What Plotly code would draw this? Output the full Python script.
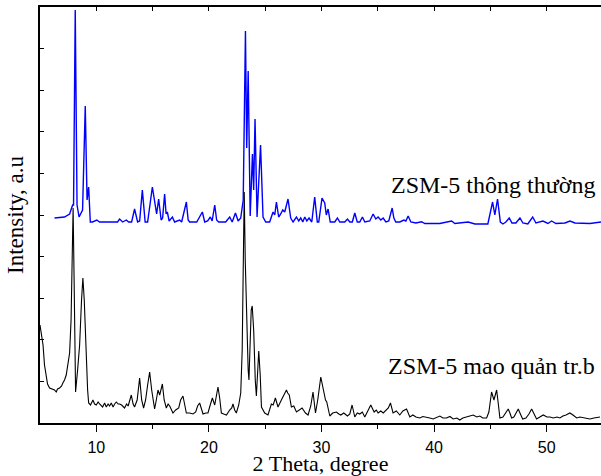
import plotly.graph_objects as go

# 2-theta (degree) and intensity (a.u.)
blue_theta = [6.29, 7.18, 7.63, 7.9, 7.98, 8.13, 8.29, 8.47, 8.78, 9.02, 9.18, 9.32, 9.47, 9.67, 10.05, 10.29,
              11.89, 12.07, 12.34, 12.67, 12.87, 13.14, 13.4, 13.67, 13.85, 14.09, 14.34, 14.56, 14.98, 15.18,
              15.36, 15.54, 15.76, 15.89, 16.07, 16.2, 16.31, 16.47, 16.76, 16.96, 17.4, 17.58, 17.85, 18.0,
              18.16, 18.29, 18.92, 19.42, 19.63, 19.89, 20.13, 20.29, 20.52, 20.69, 20.87, 21.49, 21.85, 22.07,
              22.36, 22.6, 22.83, 23.05, 23.25, 23.36, 23.49, 23.67, 23.87, 23.98, 24.1, 24.28, 24.59, 24.81,
              25.05, 25.4, 25.7, 25.85, 26.0, 26.2, 26.38, 26.56, 26.74, 27.03, 27.27, 27.48, 27.78, 27.98,
              28.16, 28.34, 28.52, 28.7, 28.9, 29.14, 29.4, 29.63, 29.76, 30.05, 30.29, 30.43, 30.59, 30.78,
              31.18, 31.42, 31.63, 32.07, 32.31, 32.52, 32.74, 32.96, 33.18, 33.4, 33.64, 33.85, 34.29, 34.59,
              34.83, 35.03, 35.27, 35.48, 35.72, 35.98, 36.28, 36.43, 36.6, 36.96, 37.32, 37.5, 37.7, 37.94,
              38.39, 38.89, 39.18, 40.51, 41.56, 41.85, 43.03, 43.63, 44.78, 44.95, 45.2, 45.4, 45.64, 45.89,
              46.12, 46.38, 46.68, 46.92, 47.27, 47.63, 47.89, 48.33, 48.76, 49.05, 49.67, 50.12, 50.44, 50.83,
              51.63, 52.07, 52.52, 53.85, 54.83]
blue_int = [205, 206, 209, 218, 218, 413, 218, 206, 213, 317, 223, 236, 201, 201, 203, 201,
            201, 204, 201, 203, 201, 201, 214, 201, 202, 233, 201, 201, 236, 220,
            209, 224, 203, 205, 229, 209, 211, 202, 206, 201, 203, 201, 213, 221,
            203, 201, 201, 211, 201, 202, 206, 202, 218, 203, 201, 201, 206, 201,
            210, 202, 205, 223, 392, 275, 352, 207, 269, 233, 304, 206, 278, 206,
            201, 201, 211, 208, 221, 206, 209, 213, 211, 224, 205, 201, 206, 202,
            205, 201, 206, 202, 205, 201, 226, 201, 201, 225, 220, 208, 214, 201,
            201, 205, 201, 201, 204, 201, 201, 210, 201, 201, 206, 201, 202, 209,
            204, 206, 203, 205, 201, 202, 215, 205, 201, 201, 203, 202, 207, 201,
            200, 201.3, 199.5, 199.5, 202, 199.5, 201, 199, 199, 208, 221, 208, 224, 201,
            199, 201, 205, 200, 200, 205, 200, 199, 206, 200, 202, 199.5, 202, 199.5,
            200, 202, 200, 199.5, 201]

black_theta = [5.0, 5.14, 5.27, 5.4, 5.56, 5.67, 5.85, 6.12, 6.29, 6.44, 6.56, 6.74, 6.92, 7.03, 7.18, 7.33,
               7.49, 7.63, 7.76, 7.85, 7.94, 8.03, 8.12, 8.16, 8.34, 8.52, 8.69, 8.81, 8.93, 9.11, 9.23, 9.32,
               9.49, 9.7, 9.85, 10.0, 10.16, 10.29, 10.56, 10.74, 10.89, 11.05, 11.18, 11.33, 11.49, 11.63,
               11.78, 11.94, 12.07, 12.25, 12.51, 12.69, 12.83, 13.11, 13.27, 13.4, 13.63, 13.85, 14.03, 14.2,
               14.38, 14.56, 14.74, 14.92, 15.18, 15.33, 15.48, 15.63, 15.87, 16.03, 16.22, 16.38, 16.52,
               16.81, 17.05, 17.32, 17.49, 17.7, 17.85, 18.0, 18.29, 18.59, 18.83, 19.0, 19.18, 19.33, 19.48,
               19.72, 19.92, 20.12, 20.31, 20.52, 20.65, 20.81, 20.96, 21.11, 21.32, 21.56, 21.85, 22.03,
               22.14, 22.29, 22.44, 22.65, 22.83, 22.96, 23.05, 23.14, 23.23, 23.36, 23.49, 23.56, 23.67,
               23.76, 23.85, 23.98, 24.12, 24.22, 24.34, 24.43, 24.56, 24.67, 24.96, 25.25, 25.55, 25.71,
               25.91, 26.14, 26.44, 26.65, 26.89, 27.0, 27.14, 27.33, 27.54, 27.78, 27.98, 28.28, 28.58,
               28.81, 29.05, 29.25, 29.47, 29.67, 29.94, 30.14, 30.36, 30.47, 30.74, 31.0, 31.33, 31.54,
               31.72, 31.98, 32.31, 32.52, 32.72, 32.96, 33.18, 33.4, 33.63, 33.85, 34.12, 34.38, 34.68,
               34.87, 35.03, 35.27, 35.49, 35.78, 35.94, 36.13, 36.36, 36.65, 36.96, 37.23, 37.56, 37.85,
               38.12, 38.39, 38.74, 39.0, 39.27, 39.63, 39.92, 40.25, 40.52, 40.79, 41.11, 41.41, 41.7,
               42.03, 42.29, 42.56, 42.89, 43.18, 43.48, 43.8, 44.07, 44.33, 44.67, 44.87, 45.0, 45.11,
               45.32, 45.56, 45.72, 45.85, 46.12, 46.3, 46.59, 46.74, 46.89, 47.09, 47.27, 47.48, 47.67,
               47.87, 48.16, 48.43, 48.67, 48.87, 49.11, 49.4, 49.7, 50.03, 50.3, 50.59, 50.92, 51.18,
               51.45, 51.72, 52.07, 52.34, 52.67, 52.96, 53.32, 53.58, 53.85, 54.2, 54.47, 54.74]
black_int = [98, 88, 78, 58, 46, 39, 35, 34, 33, 31, 34, 35, 37, 40, 43, 48,
             58, 70, 103, 163, 215, 143, 63, 31, 53, 78, 123, 145, 123, 56, 33, 20,
             18, 23, 19, 18, 21, 19, 16, 20, 16, 19, 17, 20, 16, 19,
             21, 19, 19, 18, 15, 19, 17, 28, 19, 16, 23, 45, 23, 15,
             23, 38, 51, 33, 14, 23, 33, 28, 39, 23, 15, 19, 17,
             10, 13, 15, 23, 27, 19, 10, 10, 9, 11, 17, 20, 15, 9,
             10, 10, 18, 25, 18, 25, 36, 25, 10, 9, 8, 13, 15,
             19, 13, 10, 18, 30, 73, 153, 231, 163, 93, 53, 43, 78,
             113, 117, 93, 43, 27, 53, 72, 48, 16, 10, 8, 19, 18,
             25, 16, 23, 27, 33, 30, 28, 16, 17, 11, 13, 15, 10,
             8, 17, 31, 10, 23, 46, 36, 23, 21, 7, 10, 11, 9,
             8, 10, 7, 9, 18, 6, 10, 9, 11, 6, 13, 18, 11,
             13, 10, 12, 10, 13, 15, 20, 10, 12, 8, 12, 14, 6,
             8, 6, 5, 6.5, 6, 5, 4, 6, 7, 5, 5, 6.5, 4,
             5, 3, 5, 6, 7, 8, 6, 7, 5, 5, 11, 25, 31,
             23, 33, 18, 5, 6, 9, 14, 10, 5, 6, 10, 14, 9,
             4, 5, 9, 14, 10, 4, 6, 8, 6, 6, 5, 6, 5,
             7, 8, 10, 8, 5, 6, 5, 4, 4, 5, 5.5, 6]

x_ticks = [10, 20, 30, 40, 50]
label_top = "ZSM-5 thông thường"
label_bottom = "ZSM-5 mao quản tr.b"
x_range = [5, 54.83]
y_range = [0, 416]

fig = go.Figure()
fig.add_trace(go.Scatter(x=black_theta, y=black_int, mode="lines",
                         line=dict(color="#000000", width=1.1), showlegend=False))
fig.add_trace(go.Scatter(x=blue_theta, y=blue_int, mode="lines",
                         line=dict(color="#0000ff", width=1.4), showlegend=False))
# invisible trace to activate the top axis
fig.add_trace(go.Scatter(x=[x_range[0]], y=[y_range[0]], xaxis="x2", mode="markers",
                         marker=dict(opacity=0), showlegend=False, hoverinfo="skip"))

serif = "Liberation Serif, Times New Roman, serif"
fig.add_annotation(x=54.47, y=238, xref="x", yref="y", text=label_top, showarrow=False,
                   xanchor="right", yanchor="middle", font=dict(family=serif, size=24, color="#000"))
fig.add_annotation(x=54.47, y=57, xref="x", yref="y", text=label_bottom, showarrow=False,
                   xanchor="right", yanchor="middle", font=dict(family=serif, size=24, color="#000"))

fig.update_layout(
    width=601, height=476,
    margin=dict(l=40, r=0, t=7, b=53),
    paper_bgcolor="white", plot_bgcolor="white",
    xaxis=dict(range=x_range, tickvals=x_ticks, ticktext=[str(v) for v in x_ticks],
               ticks="outside", ticklen=7, tickwidth=1.3, tickcolor="#000", ticklabelstandoff=2,
               minor=dict(tickvals=[15, 25, 35, 45], ticks="outside", ticklen=4, tickwidth=1.3, tickcolor="#000"),
               showline=True, linecolor="#000", linewidth=1.6, showgrid=False, zeroline=False,
               tickfont=dict(family="Liberation Sans, Arial, sans-serif", size=16, color="#000"),
               title=dict(text="2 Theta, degree", font=dict(family=serif, size=22, color="#000"), standoff=2)),
    xaxis2=dict(range=x_range, overlaying="x", side="top", anchor="y",
                tickvals=[10, 15, 20, 25, 30, 35, 40, 45, 50], ticks="inside", ticklen=4, tickwidth=1.2,
                tickcolor="#000", showticklabels=False, showline=True, linecolor="#000", linewidth=1.6,
                showgrid=False, zeroline=False),
    yaxis=dict(range=y_range, tick0=0, dtick=41.6, ticks="inside", ticklen=4, tickwidth=1.2, tickcolor="#000",
               showticklabels=False, showline=True, linecolor="#000", linewidth=1.6, showgrid=False,
               zeroline=False,
               title=dict(text="Intensity, a.u", font=dict(family=serif, size=23, color="#000"), standoff=8)),
)

fig.write_html("out.html", config={"displayModeBar": False},
               post_script="document.body.style.margin='0';")
